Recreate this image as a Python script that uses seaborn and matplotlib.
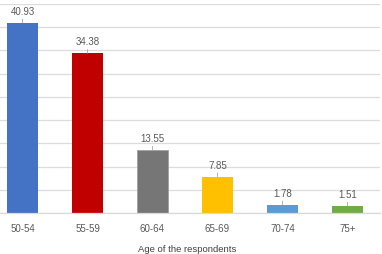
import matplotlib
matplotlib.use("Agg")
import matplotlib.pyplot as plt
import seaborn as sns
import pandas as pd
import numpy as np

categories = ["50-54", "55-59", "60-64", "65-69", "70-74", "75+"]
values = [40.93, 34.38, 13.55, 7.85, 1.78, 1.51]
colors = ["#4472C4", "#C00000", "#767676", "#FFC000", "#5B9BD5", "#70AD47"]
xlabel = "Age of the respondents"

sns.set_theme(style="white")
plt.rcParams["font.family"] = ["Liberation Sans", "DejaVu Sans"]

df = pd.DataFrame({"age": categories, "pct": values})

fig = plt.figure(figsize=(3.82, 2.55), dpi=100)
ax = fig.add_axes([-10 / 382, 41 / 255, 390 / 382, 209 / 255])

sns.barplot(data=df, x="age", y="pct", hue="age", palette=colors,
            order=categories, hue_order=categories, width=0.48,
            legend=False, ax=ax, saturation=1)

for i, p in enumerate(ax.patches):
    if i == 2:
        p.set_edgecolor("#a0a0a0")
        p.set_linewidth(0.6)
    else:
        p.set_edgecolor("none")

ax.set_ylim(0, 45)
ax.set_xlim(-0.5, 5.5)
ax.set_yticks(np.arange(0, 46, 5))
ax.set_yticklabels([])
ax.tick_params(axis="y", length=0)
ax.grid(axis="y", color="#dcdcdc", linewidth=0.9)
ax.set_axisbelow(True)
for s in ["top", "right", "left"]:
    ax.spines[s].set_visible(False)
ax.spines["bottom"].set_color("#d9d9d9")
ax.spines["bottom"].set_linewidth(0.9)

ax.set_xticks(range(len(categories)))
ax.set_xticklabels(categories, color="#595959", fontsize=7)
ax.tick_params(axis="x", which="major", length=0, pad=7)
ax.set_xticks(np.arange(-0.5, 6, 1), minor=True)
ax.tick_params(axis="x", which="minor", length=3, color="#d9d9d9", width=0.8)

ax.set_xlabel(xlabel, color="#404040", fontsize=6.8)
ax.set_ylabel("")
ax.xaxis.set_label_coords((187 + 10) / 390, -31 / 209)

px = 45 / 209.0
for i, v in enumerate(values):
    ax.annotate(f"{v:.2f}", xy=(i, v), xytext=(i, v + 12 * px),
                ha="center", va="center", fontsize=7, color="#595959",
                arrowprops=dict(arrowstyle="-", color="#a6a6a6", lw=0.6,
                                shrinkA=5, shrinkB=0))

fig.savefig("out.png", dpi=100)
